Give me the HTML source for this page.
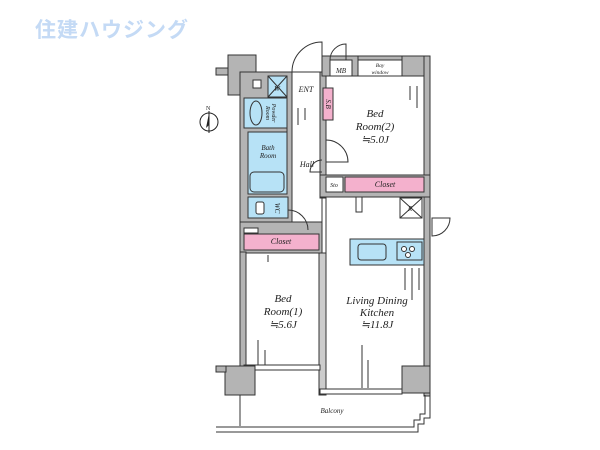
<!DOCTYPE html>
<html><head><meta charset="utf-8"><style>
html,body{margin:0;padding:0;background:#fff;}
svg{display:block}
text{font-family:"Liberation Serif",serif;font-style:italic;fill:#222}
</style></head><body>
<svg width="600" height="450" viewBox="0 0 600 450" xmlns="http://www.w3.org/2000/svg">
<text x="35" y="37" style="font-family:'Liberation Sans','Noto Sans CJK JP',sans-serif;font-style:normal;font-weight:bold;font-size:21px;fill:#c4daf5;letter-spacing:1px">住建ハウジング</text>

<!-- compass -->
<g stroke="#222" fill="none">
<circle cx="209" cy="122" r="9"/>
<line x1="209" y1="111" x2="209" y2="133"/>
</g>
<polygon points="209,113 206,128 209,125" fill="#222"/>
<text x="206" y="110" style="font-size:6px;font-style:normal">N</text>

<g stroke="#333" stroke-width="1">
<!-- top-left column and left wall -->
<rect x="228" y="55" width="28" height="40" fill="#b4b4b4"/>
<rect x="216" y="68" width="12" height="7" fill="#b4b4b4"/>
<rect x="240" y="72" width="52" height="153" fill="#b4b4b4"/>
<rect x="240" y="222" width="82" height="32" fill="#b4b4b4"/>
<rect x="240" y="252" width="6" height="115" fill="#b4b4b4"/>
<!-- wet rooms -->
<rect x="253" y="80" width="8" height="8" fill="#fff"/>
<rect x="268" y="76" width="19" height="21" fill="#b7e2f6"/>
<line x1="268" y1="76" x2="287" y2="97"/><line x1="287" y1="76" x2="268" y2="97"/>
<rect x="244" y="98" width="43" height="30" fill="#b7e2f6"/>
<ellipse cx="256" cy="113" rx="6" ry="12" fill="#b7e2f6"/>
<rect x="248" y="132" width="39" height="62" fill="#b7e2f6"/>
<rect x="250" y="172" width="34" height="20" rx="4" fill="#b7e2f6"/>
<rect x="248" y="197" width="40" height="21" fill="#b7e2f6"/>
<rect x="256" y="202" width="8" height="12" rx="2" fill="#fff"/>
<rect x="244" y="228" width="14" height="5" fill="#fff"/>
<rect x="244" y="234" width="75" height="16" fill="#f4b1cd"/>
<!-- hall -->
<rect x="292" y="72" width="30" height="150" fill="#fff"/>
<rect x="320" y="72" width="6" height="126" fill="#b4b4b4"/>
<!-- top wall + right -->
<rect x="322" y="56" width="108" height="6" fill="#b4b4b4"/>
<rect x="402" y="56" width="28" height="30" fill="#b4b4b4"/>
<rect x="424" y="56" width="6" height="340" fill="#b4b4b4"/>
<rect x="322" y="56" width="36" height="20" fill="#b4b4b4"/>
<rect x="330" y="60" width="22" height="18" fill="#fff"/>
<rect x="358" y="60" width="44" height="16" fill="#fff"/>
<rect x="326" y="76" width="98" height="99" fill="#fff"/>
<rect x="323" y="88" width="10" height="32" fill="#f4b1cd"/>
<rect x="320" y="175" width="110" height="22" fill="#b4b4b4"/>
<rect x="326" y="177" width="17" height="15" fill="#fff"/>
<rect x="345" y="177" width="79" height="15" fill="#f4b1cd"/>
<!-- LDK -->
<rect x="326" y="197" width="98" height="192" fill="#fff"/>
<rect x="356" y="197" width="6" height="15" fill="#fff"/>
<rect x="400" y="198" width="22" height="20" fill="#fff"/>
<line x1="400" y1="198" x2="422" y2="218"/><line x1="422" y1="198" x2="400" y2="218"/>
<rect x="350" y="239" width="74" height="26" fill="#b7e2f6"/>
<rect x="358" y="244" width="28" height="16" rx="3" fill="#b7e2f6"/>
<rect x="397" y="242" width="25" height="18" fill="#b7e2f6"/>
<circle cx="404" cy="249" r="2.5" fill="#fff"/><circle cx="412" cy="249" r="2.5" fill="#fff"/><circle cx="408" cy="255" r="2.5" fill="#fff"/>
<!-- bed1 -->
<rect x="246" y="253" width="73" height="113" fill="#fff"/>
<rect x="319" y="253" width="7" height="142" fill="#ccc"/>
<rect x="244" y="365" width="76" height="5" fill="#fff"/>
<rect x="320" y="389" width="82" height="5" fill="#fff"/>
<!-- bottom columns -->
<rect x="225" y="366" width="30" height="29" fill="#b4b4b4"/>
<rect x="216" y="366" width="10" height="6" fill="#b4b4b4"/>
<rect x="402" y="366" width="28" height="27" fill="#b4b4b4"/>
</g>
<!-- doors -->
<g stroke="#333" fill="none" stroke-width="1">
<path d="M292,72 A30,30 0 0 1 322,42 L322,72"/>
<path d="M330,60 A16,16 0 0 1 346,44 L346,60"/>
<path d="M326,140 A22,22 0 0 1 348,162 L326,162"/>
<path d="M432,218 L432,236 A18,18 0 0 0 450,218Z"/>
<path d="M288,210 A20,20 0 0 1 308,230"/>
<path d="M322,160 A12,12 0 0 0 310,172 L322,172"/>
<path d="M292,107 L292,127"/>
<path d="M268,128 L287,128 L287,140"/>
<!-- balcony -->
<line x1="240" y1="395" x2="240" y2="426"/>
<polyline points="216,427 414,427 414,420 420,420 420,414 425,414 425,395"/>
<polyline points="216,432 418,432 418,424 424,424 424,418 430,418 430,395"/>
<!-- stripes -->
<line x1="268" y1="255" x2="268" y2="262"/>
<line x1="258" y1="340" x2="258" y2="365"/><line x1="265" y1="350" x2="265" y2="365"/>
<line x1="362" y1="345" x2="362" y2="388"/><line x1="368" y1="360" x2="368" y2="388"/>
<line x1="405" y1="268" x2="405" y2="290"/><line x1="412" y1="268" x2="412" y2="300"/><line x1="419" y1="268" x2="419" y2="290"/>
<line x1="410" y1="86" x2="410" y2="100"/><line x1="417" y1="86" x2="417" y2="108"/>
<line x1="298" y1="108" x2="298" y2="125"/><line x1="305" y1="108" x2="305" y2="120"/>
</g>
<!-- labels -->
<text x="375" y="117" text-anchor="middle" font-size="11">Bed</text>
<text x="375" y="130" text-anchor="middle" font-size="11">Room(2)</text>
<text x="375" y="143" text-anchor="middle" font-size="11">≒5.0J</text>
<text x="283" y="302" text-anchor="middle" font-size="11">Bed</text>
<text x="283" y="315" text-anchor="middle" font-size="11">Room(1)</text>
<text x="283" y="328" text-anchor="middle" font-size="11">≒5.6J</text>
<text x="377" y="304" text-anchor="middle" font-size="11">Living Dining</text>
<text x="377" y="316" text-anchor="middle" font-size="11">Kitchen</text>
<text x="377" y="328" text-anchor="middle" font-size="11">≒11.8J</text>
<text x="332" y="413" text-anchor="middle" font-size="7">Balcony</text>
<text x="307" y="167" text-anchor="middle" font-size="8">Hall</text>
<text x="268" y="150" text-anchor="middle" font-size="7">Bath</text>
<text x="268" y="158" text-anchor="middle" font-size="7">Room</text>
<text x="385" y="187" text-anchor="middle" font-size="8">Closet</text>
<text x="281" y="244" text-anchor="middle" font-size="8">Closet</text>
<text x="334" y="187" text-anchor="middle" font-size="6">Sto</text>
<text x="306" y="92" text-anchor="middle" font-size="8">ENT</text>
<text x="341" y="73" text-anchor="middle" font-size="7">MB</text>
<text x="380" y="67" text-anchor="middle" font-size="5.5">Bay</text>
<text x="380" y="74" text-anchor="middle" font-size="5.5">window</text>
<text x="277" y="91" text-anchor="middle" font-size="7">W</text>
<text transform="translate(326,104) rotate(90)" text-anchor="middle" font-size="7">S.B</text>
<text transform="translate(275,208) rotate(90)" text-anchor="middle" font-size="7">WC</text>
<text transform="translate(272,113) rotate(90)" text-anchor="middle" font-size="6">Powder</text>
<text transform="translate(266,113) rotate(90)" text-anchor="middle" font-size="6">Room</text>
<text x="410" y="211" text-anchor="middle" font-size="7">R</text>
</svg>
</body></html>
